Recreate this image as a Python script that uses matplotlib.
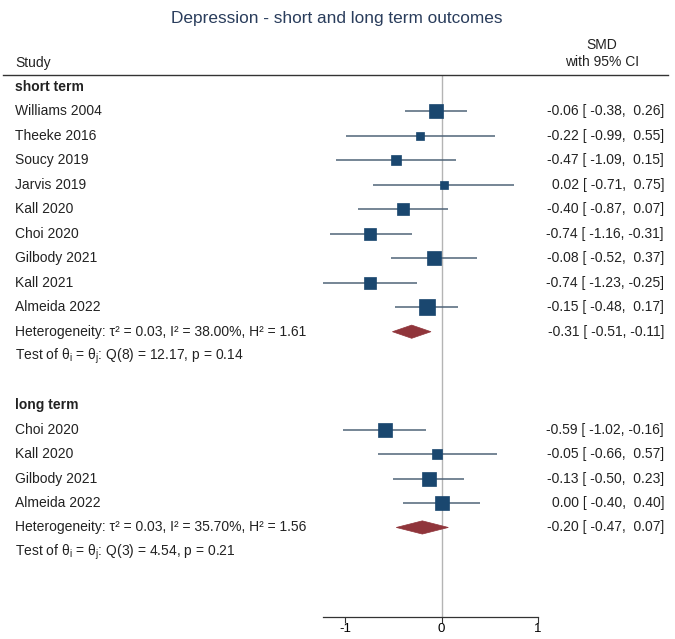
import matplotlib
matplotlib.use("Agg")
import matplotlib.pyplot as plt
from matplotlib.transforms import blended_transform_factory
from matplotlib.patches import Polygon
import numpy as np

plt.rcParams['font.family'] = ['Liberation Sans', 'DejaVu Sans']
plt.rcParams['mathtext.fontset'] = 'custom'
plt.rcParams['mathtext.rm'] = 'Liberation Sans'

# ---------------- data ----------------
short_names = ["Williams 2004", "Theeke 2016", "Soucy 2019", "Jarvis 2019", "Kall 2020",
               "Choi 2020", "Gilbody 2021", "Kall 2021", "Almeida 2022"]
short_smd = [-0.06, -0.22, -0.47, 0.02, -0.40, -0.74, -0.08, -0.74, -0.15]
short_lo = [-0.38, -0.99, -1.09, -0.71, -0.87, -1.16, -0.52, -1.23, -0.48]
short_hi = [0.26, 0.55, 0.15, 0.75, 0.07, -0.31, 0.37, -0.25, 0.17]
short_w = [16.0, 5.2, 8.2, 4.4, 11.8, 11.8, 13.8, 11.8, 18.4]
short_pool = (-0.31, -0.51, -0.11)
short_het = "Heterogeneity: τ² = 0.03, I² = 38.00%, H² = 1.61"
short_test = r"Test of θ$_\mathregular{i}$ = θ$_\mathregular{j}$: Q(8) = 12.17, p = 0.14"

long_names = ["Choi 2020", "Kall 2020", "Gilbody 2021", "Almeida 2022"]
long_smd = [-0.59, -0.05, -0.13, 0.00]
long_lo = [-1.02, -0.66, -0.50, -0.40]
long_hi = [-0.16, 0.57, 0.23, 0.40]
long_w = [13.8, 8.2, 16.0, 16.0]
long_pool = (-0.20, -0.47, 0.07)
long_het = "Heterogeneity: τ² = 0.03, I² = 35.70%, H² = 1.56"
long_test = r"Test of θ$_\mathregular{i}$ = θ$_\mathregular{j}$: Q(3) = 4.54, p = 0.21"

title = "Depression - short and long term outcomes"
xticks = [-1, 0, 1]

# ---------------- figure ----------------
W, H = 675, 639
fig = plt.figure(figsize=(W / 100, H / 100), dpi=100)

def fx(px):
    return px / W

def fy(py):
    return 1 - py / H

ax_left, ax_right, ax_top, ax_bot = 323, 538, 75, 617
ax = fig.add_axes([fx(ax_left), fy(ax_bot), fx(ax_right - ax_left), (ax_bot - ax_top) / H])
row_h = 24.47
row0 = 87
ax.set_xlim(-1.23, 1.0)
ax.set_ylim((ax_bot - row0) / row_h, (ax_top - row0) / row_h)
for s in ["top", "right", "left"]:
    ax.spines[s].set_visible(False)
ax.spines["bottom"].set_color("#333333")
ax.spines["bottom"].set_linewidth(0.9)
ax.set_yticks([])
ax.set_xticks(xticks)
ax.set_xticklabels([str(t) for t in xticks])
ax.tick_params(axis="x", length=4, width=0.8, color="#333333", labelsize=9.5, pad=0.5)
ax.patch.set_alpha(0)
ax.axvline(0, color="#b4b4b4", lw=1.0, zorder=0)

tr = blended_transform_factory(fig.transFigure, ax.transData)

SQ = "#1a476f"
LN = "#4f6478"
DM = "#90353b"
TXT = "#222222"
fs = 10

def ci_text(m, lo, hi):
    hs = f"{hi:.2f}"
    hs = (" " + hs) if hi >= 0 else hs
    return f"{m:.2f} [ {lo:.2f}, {hs}]"

def draw_group(start, header, names, smd, lo, hi, w, pool, het, test):
    ax.text(fx(15), start, header, transform=tr, ha="left", va="center",
            fontsize=fs, fontweight="bold", color=TXT)
    r = start + 1
    for n, m, l, h, wt in zip(names, smd, lo, hi, w):
        ax.plot([l, h], [r, r], color=LN, lw=1.1, solid_capstyle="butt", zorder=2)
        side_px = 3.5 * np.sqrt(wt)
        ax.plot([m], [r], marker="s", ms=side_px * 0.72, color=SQ, mec=SQ, mew=0.5, zorder=3)
        ax.text(fx(15), r, n, transform=tr, ha="left", va="center", fontsize=fs, color=TXT)
        ax.text(fx(664), r, ci_text(m, l, h), transform=tr, ha="right", va="center",
                fontsize=fs, color=TXT)
        r += 1
    pm, pl, ph = pool
    dh = 0.27
    ax.add_patch(Polygon([[pl, r], [pm, r - dh], [ph, r], [pm, r + dh]], closed=True,
                         facecolor=DM, edgecolor=DM, lw=0.5, zorder=3))
    ax.text(fx(15), r, het, transform=tr, ha="left", va="center", fontsize=fs, color=TXT)
    ax.text(fx(664), r, ci_text(pm, pl, ph), transform=tr, ha="right", va="center",
            fontsize=fs, color=TXT)
    ax.text(fx(15), r + 1, test, transform=tr, ha="left", va="center", fontsize=fs, color=TXT)
    return r + 2

nxt = draw_group(0, "short term", short_names, short_smd, short_lo, short_hi, short_w,
                 short_pool, short_het, short_test)
draw_group(nxt + 1, "long term", long_names, long_smd, long_lo, long_hi, long_w,
           long_pool, long_het, long_test)

# header
fig.text(fx(337), fy(18), title, ha="center", va="center", fontsize=12.4, color="#2a3d5c")
fig.text(fx(602), fy(45), "SMD", ha="center", va="center", fontsize=fs, color=TXT)
fig.text(fx(602), fy(62), "with 95% CI", ha="center", va="center", fontsize=fs, color=TXT)
fig.text(fx(15), fy(63), "Study", ha="left", va="center", fontsize=fs, color=TXT)
fig.add_artist(plt.Line2D([fx(3), fx(668)], [fy(75), fy(75)], transform=fig.transFigure,
                          color="#333333", lw=1.0))

fig.savefig("out.png", dpi=100, facecolor="white")
